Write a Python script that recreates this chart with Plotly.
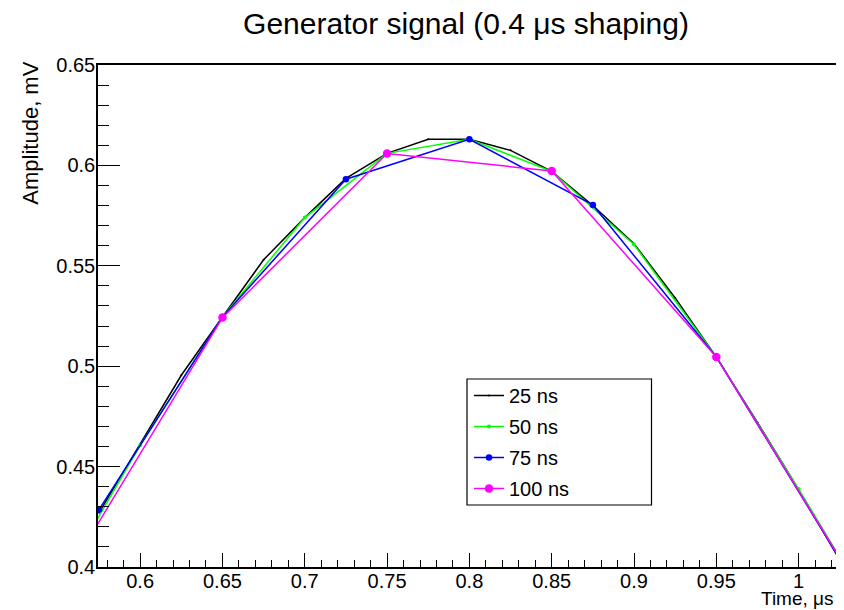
import plotly.graph_objects as go

# ---- data ----
t25 = [0.575, 0.6, 0.625, 0.65, 0.675, 0.7, 0.725, 0.75, 0.775, 0.8, 0.825,
       0.85, 0.875, 0.9, 0.925, 0.95, 0.975, 1.0, 1.025]
a25 = [0.427, 0.461, 0.4955, 0.5245, 0.553, 0.574, 0.5935, 0.606, 0.613, 0.613,
       0.6075, 0.597, 0.580, 0.561, 0.534, 0.5045, 0.472, 0.4385, 0.4035]

t50 = [0.55, 0.6, 0.65, 0.7, 0.75, 0.8, 0.85, 0.9, 0.95, 1.0, 1.05]
a50 = [0.390, 0.4606, 0.5245, 0.574, 0.606, 0.613, 0.597, 0.5606, 0.5046, 0.4388, 0.371]

t75 = [0.575, 0.65, 0.725, 0.8, 0.875, 0.95, 1.025]
a75 = [0.4286, 0.5245, 0.5931, 0.613, 0.5803, 0.5046, 0.4040]

t100 = [0.55, 0.65, 0.75, 0.85, 0.95, 1.05]
a100 = [0.3885, 0.5242, 0.6059, 0.5972, 0.5046, 0.371]

series_names = ["25 ns", "50 ns", "75 ns", "100 ns"]
x_tickvals = [0.6, 0.65, 0.7, 0.75, 0.8, 0.85, 0.9, 0.95, 1.0]
x_ticktext = ["0.6", "0.65", "0.7", "0.75", "0.8", "0.85", "0.9", "0.95", "1"]
y_tickvals = [0.4, 0.45, 0.5, 0.55, 0.6, 0.65]
y_ticktext = ["0.4", "0.45", "0.5", "0.55", "0.6", "0.65"]

FONT = "Liberation Sans, Arial, sans-serif"

# The page body has an 8px margin, so the figure is drawn at (8, 8).
W, H = 836, 602
L, T = 90, 57           # plot area left/top inside the figure
PW, PH = 741, 502       # plot area size

def px(xf):   # figure x pixel -> paper x
    return (xf - L) / PW

def py(yf):   # figure y pixel -> paper y
    return 1 - (yf - T) / PH

fig = go.Figure()
styles = [
    ("#000000", 2),
    ("#00ff00", 4),
    ("#0000ff", 6.5),
    ("#ff00ff", 8.5),
]
data = [(t25, a25), (t50, a50), (t75, a75), (t100, a100)]
for (xs, ys), name, (col, ms) in zip(data, series_names, styles):
    fig.add_trace(go.Scatter(
        x=xs, y=ys, name=name, mode="lines+markers",
        line=dict(color=col, width=1.5),
        marker=dict(color=col, size=ms),
        cliponaxis=True, legendgroup=name,
    ))

fig.update_layout(
    width=W, height=H,
    margin=dict(l=L, r=W - L - PW, t=T, b=H - T - PH),
    paper_bgcolor="white", plot_bgcolor="white",
    font=dict(family=FONT, size=20, color="black"),
    title=dict(text="Generator signal (0.4 μs shaping)",
               x=458 / W, xanchor="center", y=1 - 15 / H, yanchor="middle",
               font=dict(size=30, family=FONT)),
    showlegend=True,
    legend=dict(x=px(462), xanchor="left",
                y=py(368), yanchor="top",
                bgcolor="rgba(0,0,0,0)", borderwidth=0,
                font=dict(size=20, family=FONT), tracegroupgap=2),
    xaxis=dict(range=[0.5744, 1.0233], showgrid=False, zeroline=False,
               showline=True, linecolor="black", linewidth=1.5, mirror=True,
               tickmode="array", tickvals=x_tickvals, ticktext=x_ticktext,
               ticks="inside", ticklen=14, tickwidth=1.2, tickcolor="black",
               ticklabelstandoff=-5,
               minor=dict(tickmode="linear", tick0=0.6, dtick=0.01,
                          ticks="inside", ticklen=7, tickwidth=1.2,
                          tickcolor="black", showgrid=False),
               tickfont=dict(size=20, family=FONT)),
    yaxis=dict(range=[0.4, 0.65], showgrid=False, zeroline=False,
               showline=True, linecolor="black", linewidth=1.5, mirror=True,
               tickmode="array", tickvals=y_tickvals, ticktext=y_ticktext,
               ticks="inside", ticklen=22, tickwidth=1.2, tickcolor="black",
               ticklabelstandoff=-3,
               minor=dict(tickmode="linear", tick0=0.4, dtick=0.01,
                          ticks="inside", ticklen=11, tickwidth=1.2,
                          tickcolor="black", showgrid=False),
               tickfont=dict(size=20, family=FONT)),
    shapes=[dict(type="rect", xref="paper", yref="paper",
                 x0=px(460), x1=px(645),
                 y0=py(497), y1=py(371),
                 line=dict(color="black", width=1.2), fillcolor="rgba(0,0,0,0)",
                 layer="above")],
    annotations=[
        dict(text="Amplitude, mV", xref="paper", yref="paper",
             x=px(22), xanchor="center",
             y=py(52), yanchor="top", textangle=-90, showarrow=False,
             font=dict(size=22, family=FONT)),
        dict(text="Time, μs", xref="paper", yref="paper",
             x=px(830), xanchor="right", y=py(590), yanchor="middle",
             showarrow=False, font=dict(size=19, family=FONT)),
    ],
)

fig.write_html("out.html")
